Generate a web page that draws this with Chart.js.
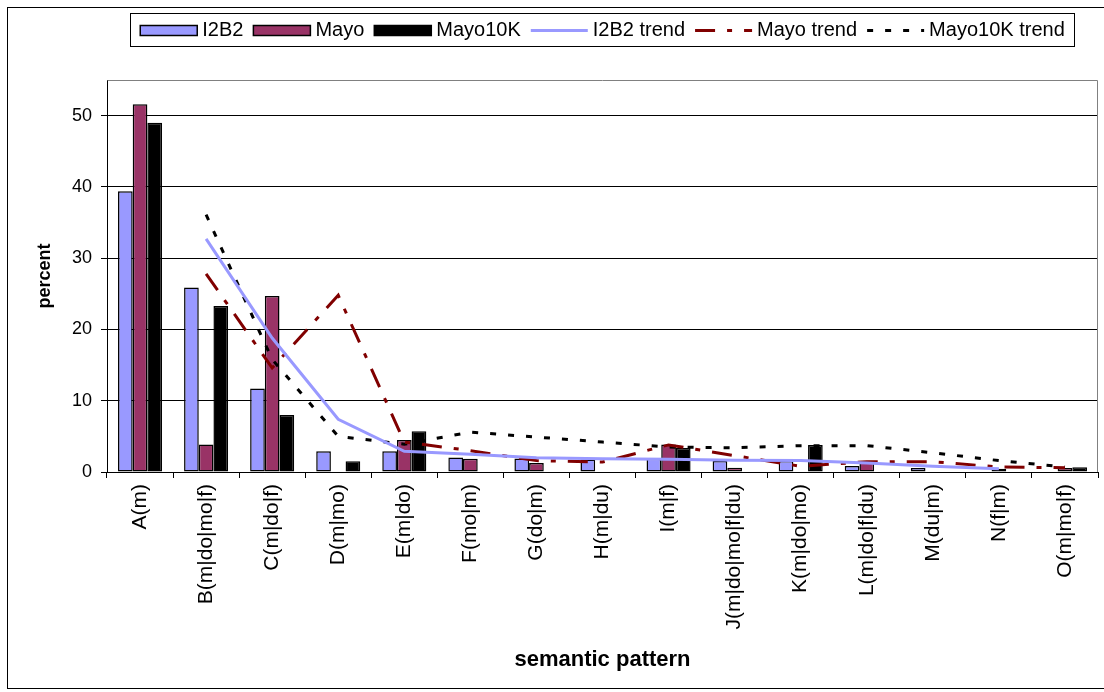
<!DOCTYPE html>
<html>
<head>
<meta charset="utf-8">
<script src="https://cdn.jsdelivr.net/npm/chart.js@4.4.1/dist/chart.umd.min.js"></script>
<style>
  html, body { margin: 0; padding: 0; background: #ffffff; }
  #wrap { position: relative; width: 1104px; height: 692px; }
</style>
</head>
<body>
<div id="wrap"><canvas id="chart" width="1104" height="692"></canvas></div>
<script>
// Semantic pattern frequencies (percent) per corpus
const categories = ['A(m)', 'B(m|do|mo|f)', 'C(m|do|f)', 'D(m|mo)', 'E(m|do)', 'F(mo|m)', 'G(do|m)',
  'H(m|du)', 'I(m|f)', 'J(m|do|mo|f|du)', 'K(m|do|mo)', 'L(m|do|f|du)', 'M(du|m)', 'N(f|m)', 'O(m|mo|f)'];
const i2b2    = [39.4, 25.9, 11.7, 2.9, 2.9, 2.05, 1.9, 1.75, 1.85, 1.55, 1.55, 0.85, 0.55, null, null];
const mayo    = [51.6, 3.85, 24.7, null, 4.5, 1.85, 1.25, null, 3.85, 0.6, null, 1.5, null, 0.45, 0.55];
const mayo10k = [49.0, 23.3, 8.0, 1.5, 5.7, null, null, null, 3.35, null, 3.8, null, null, null, 0.65];

// Two-period moving-average trend lines
const i2b2Trend    = [null, 32.7, 18.8, 7.4, 2.9, 2.5, 2.0, 1.85, 1.8, 1.65, 1.6, 1.25, 0.8, 0.45, null];
const mayoTrend    = [null, 27.8, 14.6, 24.8, 4.2, 3.0, 1.6, 1.4, 3.8, 2.3, 0.8, 1.45, 1.45, 0.7, 0.6];
const mayo10kTrend = [null, 36.1, 15.8, 5.0, 3.9, 5.6, 4.9, 4.2, 3.5, 3.4, 3.7, 3.7, 2.7, 1.6, 0.7];

const yTicks = [0, 10, 20, 30, 40, 50];
const yMax = 55;

const FONT = '"Liberation Sans", Arial, Helvetica, sans-serif';
Chart.defaults.color = '#000';
Chart.defaults.font.family = FONT;

// Outer frame, plot-area box and boxed legend
const decorations = {
  id: 'decorations',
  beforeDraw(chart) {
    const ctx = chart.ctx;
    ctx.save();
    ctx.fillStyle = '#fff';
    ctx.fillRect(0, 0, chart.width, chart.height);
    ctx.strokeStyle = '#000';
    ctx.lineWidth = 1;
    ctx.strokeRect(7.5, 7.5, chart.width + 20, 681);
    ctx.restore();
  },
  beforeDatasetsDraw(chart) {
    const {ctx, chartArea: a} = chart;
    ctx.save();
    ctx.strokeStyle = '#808080';
    ctx.lineWidth = 1;
    ctx.beginPath();
    ctx.moveTo(Math.round(a.left) + 0.5, Math.round(a.top) + 0.5);
    ctx.lineTo(Math.round(a.right) - 0.5, Math.round(a.top) + 0.5);
    ctx.lineTo(Math.round(a.right) - 0.5, Math.round(a.bottom));
    ctx.stroke();
    ctx.restore();
  },
  afterDraw(chart) {
    const ctx = chart.ctx;
    const box = {left: 130.5, top: 13.5, right: 1074.5, bottom: 46.5};
    const swatchW = 57, swatchH = 10, textGap = 5, itemGap = 10;
    ctx.save();
    ctx.font = '20px ' + FONT;
    const items = chart.data.datasets.map(ds => ({ds, w: ctx.measureText(ds.label).width}));
    const total = items.reduce((s, it) => s + swatchW + textGap + it.w, 0) + itemGap * (items.length - 1);
    let x = (box.left + box.right) / 2 - total / 2;
    const cy = (box.top + box.bottom) / 2 + 0.5;
    ctx.fillStyle = '#fff';
    ctx.fillRect(box.left, box.top, box.right - box.left, box.bottom - box.top);
    ctx.strokeStyle = '#000';
    ctx.lineWidth = 1;
    ctx.strokeRect(box.left, box.top, box.right - box.left, box.bottom - box.top);
    items.forEach(({ds, w}) => {
      if (ds.type === 'line') {
        ctx.strokeStyle = ds.borderColor;
        ctx.lineWidth = ds.borderWidth;
        ctx.setLineDash(ds.borderDash || []);
        ctx.beginPath();
        ctx.moveTo(x, cy);
        ctx.lineTo(x + swatchW, cy);
        ctx.stroke();
        ctx.setLineDash([]);
      } else {
        ctx.fillStyle = ds.backgroundColor;
        ctx.fillRect(x, cy - swatchH / 2, swatchW, swatchH);
        ctx.strokeStyle = '#000';
        ctx.lineWidth = 1.5;
        ctx.strokeRect(x, cy - swatchH / 2, swatchW, swatchH);
      }
      x += swatchW + textGap;
      ctx.fillStyle = '#000';
      ctx.textBaseline = 'middle';
      ctx.textAlign = 'left';
      ctx.fillText(ds.label, x, cy);
      x += w + itemGap;
    });
    ctx.restore();
  }
};

const barStyle = {type: 'bar', borderColor: '#000', borderWidth: 1.5, borderSkipped: false,
  categoryPercentage: 3 / 4.5, barPercentage: 1.0, order: 2};
const lineStyle = {type: 'line', pointRadius: 0, pointHoverRadius: 0, tension: 0, fill: false,
  borderCapStyle: 'butt', spanGaps: true, order: 1};

new Chart(document.getElementById('chart'), {
  data: {
    labels: categories,
    datasets: [
      {...barStyle, label: 'I2B2', data: i2b2, backgroundColor: '#9999FF'},
      {...barStyle, label: 'Mayo', data: mayo, backgroundColor: '#993366'},
      {...barStyle, label: 'Mayo10K', data: mayo10k, backgroundColor: '#000000'},
      {...lineStyle, label: 'I2B2 trend', data: i2b2Trend, borderColor: '#9999FF', borderWidth: 3},
      {...lineStyle, label: 'Mayo trend', data: mayoTrend, borderColor: '#800000', borderWidth: 3,
        borderDash: [20, 12, 5, 12]},
      {...lineStyle, label: 'Mayo10K trend', data: mayo10kTrend, borderColor: '#000000', borderWidth: 3,
        borderDash: [6, 12]}
    ]
  },
  options: {
    responsive: false,
    animation: false,
    devicePixelRatio: 1,
    layout: {padding: {left: 0, right: 6, top: 80, bottom: 0}},
    plugins: {legend: {display: false}, tooltip: {enabled: false}},
    scales: {
      x: {
        type: 'category',
        offset: true,
        grid: {offset: true, drawOnChartArea: false, color: '#000', tickLength: 6, lineWidth: 1},
        border: {color: '#000', width: 1},
        ticks: {minRotation: 90, maxRotation: 90, autoSkip: false, padding: 6,
          font: {size: 21, family: FONT}, color: '#000'},
        title: {display: true, text: 'semantic pattern', color: '#000',
          font: {size: 22, weight: 'bold', family: FONT}, padding: {top: 0, bottom: 19}},
        afterFit(scale) { scale.height = 220; }
      },
      y: {
        min: 0,
        max: yMax,
        grid: {color: '#000', tickLength: 6, lineWidth: 1},
        border: {color: '#000', width: 1},
        afterBuildTicks(scale) { scale.ticks = yTicks.map(v => ({value: v})); },
        ticks: {padding: 9, font: {size: 18, family: FONT}, color: '#000'},
        title: {display: true, text: 'percent', color: '#000',
          font: {size: 18, weight: 'bold', family: FONT}, padding: {top: 34, bottom: 0}},
        afterFit(scale) { scale.width = 107; }
      }
    }
  },
  plugins: [decorations]
});
</script>
</body>
</html>
